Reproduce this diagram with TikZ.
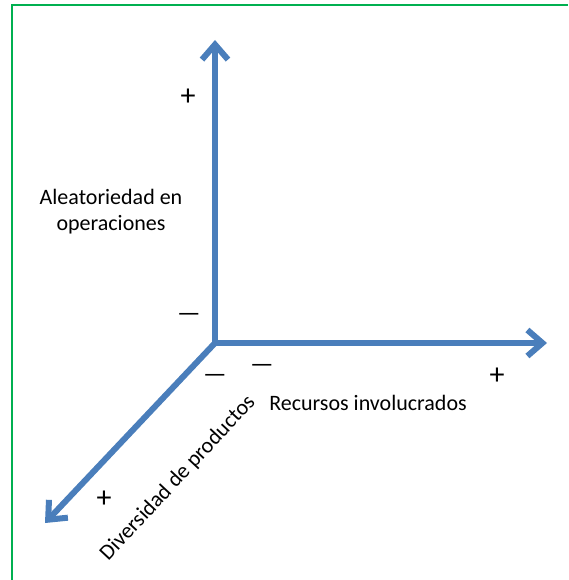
\documentclass[tikz,border=0pt]{standalone}
\usepackage{fontspec}
\setmainfont{Carlito}
\usetikzlibrary{arrows.meta}

\definecolor{axisblue}{RGB}{74,126,187}
\definecolor{framegreen}{RGB}{0,176,80}

\tikzset{
  axis/.style={draw=axisblue, line width=6pt,
    -{Straight Barb[length=15pt,width=26pt,line width=6pt]}},
  sign/.style={font=\fontsize{26}{26}\selectfont, inner sep=0pt},
  plus/.style={font=\fontsize{30}{30}\selectfont, inner sep=0pt},
  lbl/.style={font=\fontsize{22}{26}\selectfont, inner sep=0pt, align=center}
}

\begin{document}
\begin{tikzpicture}[x=1pt,y=-1pt]
\useasboundingbox (0,0) rectangle (568,580);

% frame (only top and left edges show)
\draw[framegreen, line width=2pt] (11.5,580) -- (11.5,5.5) -- (568,5.5);

\coordinate (O)    at (215,343);
\coordinate (up)   at (215,40);
\coordinate (rgt)  at (547,343);
\coordinate (diag) at (45,523);

\draw[axis] (O) -- (up);
\draw[axis] (O) -- (rgt);
\draw[axis] (O) -- (diag);

\node[plus] (p1) at (188,97)  {+};
\node[sign] (m1) at (189,317) {---};
\node[sign] (m2) at (215,378) {---};
\node[sign] (m3) at (262,368) {---};
\node[plus] (p2) at (497,376) {+};
\node[plus] (p3) at (104,499) {+};

\node[lbl] (alea) at (111,212) {Aleatoriedad en\\operaciones};
\node[lbl] (rec)  at (368,403) {Recursos involucrados};
\node[lbl, rotate=47] (div) at (178,478) {Diversidad de productos};

\end{tikzpicture}
\end{document}
